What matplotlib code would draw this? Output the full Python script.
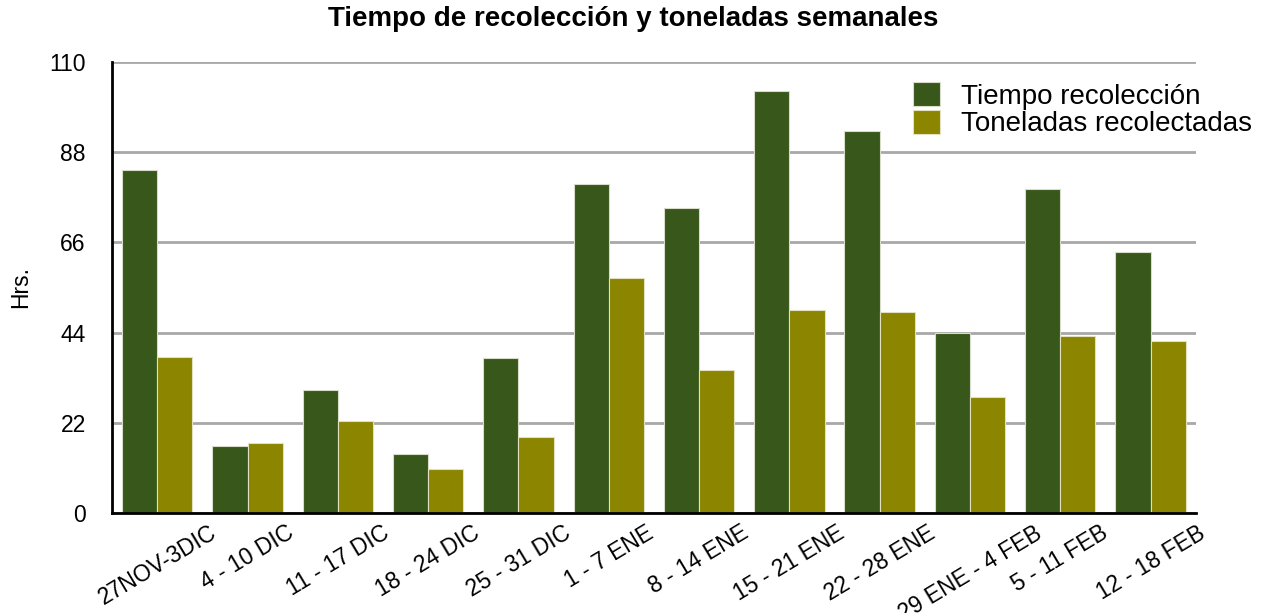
import numpy as np
import matplotlib
matplotlib.use("Agg")
import matplotlib.pyplot as plt

plt.rcParams['font.family'] = ['Liberation Sans', 'DejaVu Sans']

semanas = ['27NOV-3DIC', '4 - 10 DIC', '11 - 17 DIC', '18 - 24 DIC', '25 - 31 DIC',
           '1 - 7 ENE', '8 - 14 ENE', '15 - 21 ENE', '22 - 28 ENE', '29 ENE - 4 FEB',
           '5 - 11 FEB', '12 - 18 FEB']
tiempo = [83.6, 16.4, 29.9, 14.3, 37.8, 80.3, 74.3, 102.8, 93.2, 43.8, 78.9, 63.6]
toneladas = [38.1, 17.0, 22.5, 10.7, 18.6, 57.3, 34.9, 49.4, 49.1, 28.3, 43.2, 42.0]
yticks = [0, 22, 44, 66, 88, 110]

verde = '#38571a'
oliva = '#8b8500'

fig = plt.figure(figsize=(12.66, 6.13), dpi=100)
ax = fig.add_axes([0.0885, 0.163, 0.856, 0.736])

x = np.arange(len(semanas))
w = 0.39
ax.bar(x - w / 2, tiempo, w, color=verde, edgecolor='#d9dccb', linewidth=0.8,
       label='Tiempo recolección', zorder=3)
ax.bar(x + w / 2, toneladas, w, color=oliva, edgecolor='#e2e0c0', linewidth=0.8,
       label='Toneladas recolectadas', zorder=3)

ax.set_xlim(-0.5, len(semanas) - 0.5)
ax.set_ylim(0, 110)
ax.set_yticks(yticks)
ax.set_xticks(x)
ax.set_xticklabels(semanas, rotation=31, ha='center')
ax.tick_params(axis='both', length=0, labelsize=16.5)
ax.tick_params(axis='x', pad=6)
ax.tick_params(axis='y', pad=19)

ax.grid(axis='y', color='#a8a8a8', linewidth=2, zorder=0)
for s in ['top', 'right']:
    ax.spines[s].set_visible(False)
for s in ['left', 'bottom']:
    ax.spines[s].set_linewidth(2)
    ax.spines[s].set_zorder(4)

ax.set_ylabel('Hrs.', fontsize=16.5, labelpad=12)
fig.suptitle('Tiempo de recolección y toneladas semanales', fontsize=20,
             fontweight='bold', y=0.99)

fig.legend(loc='upper left', bbox_to_anchor=(0.712, 0.885), frameon=False,
           fontsize=20, handlelength=1.0, handleheight=1.0, handletextpad=0.75,
           labelspacing=0.0, borderaxespad=0)

fig.savefig('out.png', dpi=100)
